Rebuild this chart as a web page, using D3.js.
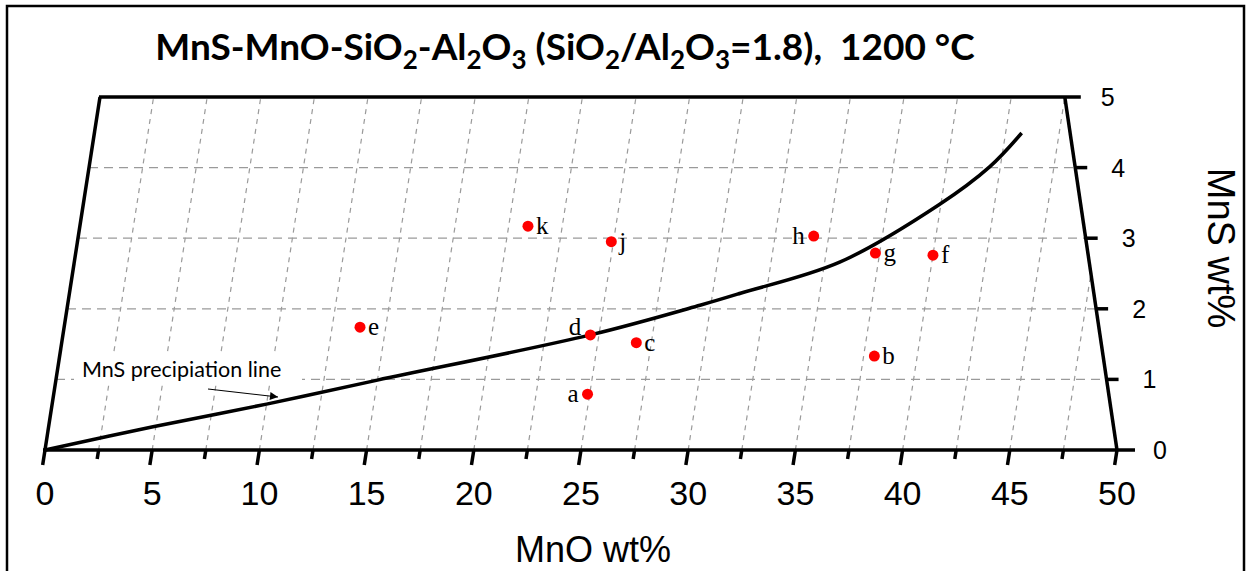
<!DOCTYPE html>
<html>
<head>
<meta charset="utf-8">
<script src="https://cdn.jsdelivr.net/npm/d3@7"></script>
<style>
  body { margin: 0; background: #fff; }
  svg text { white-space: pre; }
</style>
</head>
<body>
<div id="container"></div>
<script>
// MnO (x) / MnS (y) axes
var mnoTicks = [0, 5, 10, 15, 20, 25, 30, 35, 40, 45, 50];
var mnsTicks = [0, 1, 2, 3, 4, 5];

// MnS precipitation line
var lineMnO = [0, 4.87, 10, 15, 24.6, 29.5, 31.3, 35.7, 39.9, 42.0, 43.25];
var lineMnS = [0, 0.33, 0.65, 0.99, 1.63, 2.05, 2.22, 2.66, 3.47, 4.01, 4.49];

// sample points
var sampleIds  = ["a", "b", "c", "d", "e", "f", "g", "h", "j", "k"];
var sampleMnO  = [24.9, 38.0, 26.8, 24.6, 13.8, 40.0, 37.3, 34.3, 24.9, 20.9];
var sampleMnS  = [0.79, 1.33, 1.52, 1.63, 1.74, 2.76, 2.79, 3.03, 2.95, 3.17];
var labelLeft  = ["a", "d", "h"];

var svg = d3.select("#container").append("svg")
            .attr("width", 1250).attr("height", 571);

var x = d3.scaleLinear().domain([0, 50]).range([45, 1117]);
var y = d3.scaleLinear().domain([0, 5]).range([450, 97]);
var shear = 55 / 353;

// skewed plot coordinates
function P(a, b) {
    return [x(a) + shear * (y(0) - y(b)), y(b)];
}

// outer frame
svg.append("rect").attr("x", 7).attr("y", 6).attr("width", 1237).attr("height", 580)
   .attr("fill", "none").attr("stroke", "#000").attr("stroke-width", 2.5);

// title
var title = svg.append("text").attr("x", 565).attr("y", 60)
               .attr("text-anchor", "middle")
               .style("font-family", "Lato, 'Open Sans', sans-serif")
               .style("font-weight", "bold").style("font-size", "37px");
var parts = [["MnS-MnO-SiO", 0], ["2", 1], ["-Al", 0], ["2", 1], ["O", 0], ["3", 1],
             [" (SiO", 0], ["2", 1], ["/Al", 0], ["2", 1], ["O", 0], ["3", 1],
             ["=1.8),  1200 \u00B0C", 0]];
parts.forEach(function(p, i) {
    var t = title.append("tspan").text(p[0]);
    if (p[1]) t.attr("dy", 9).style("font-size", "26px");
    else t.attr("dy", (i > 0 && parts[i - 1][1]) ? -9 : 0);
});

// grid
var grid = svg.append("g").attr("stroke", "#9a9a9a").attr("stroke-width", 1.2).attr("fill", "none");
var vGrid = d3.range(2.5, 50, 2.5);
grid.selectAll("line.v").data(vGrid).enter().append("line")
    .attr("stroke-dasharray", "5,5")
    .attr("x1", function(d){ return P(d, 0)[0]; })
    .attr("y1", function(d){ return P(d, 0)[1]; })
    .attr("x2", function(d){ return P(d, Math.min(5, 50 - d))[0]; })
    .attr("y2", function(d){ return P(d, Math.min(5, 50 - d))[1]; });
grid.selectAll("line.h").data([1, 2, 3, 4]).enter().append("line")
    .attr("stroke-dasharray", "9,6")
    .attr("x1", function(d){ return P(0, d)[0]; })
    .attr("y1", function(d){ return P(0, d)[1]; })
    .attr("x2", function(d){ return P(50 - d, d)[0]; })
    .attr("y2", function(d){ return P(50 - d, d)[1]; });

// frame of the diagram
var frame = svg.append("g").attr("stroke", "#000").attr("stroke-width", 3.5)
               .attr("fill", "none").attr("stroke-linecap", "butt");
frame.append("line").attr("x1", P(0, 0)[0] - 2).attr("y1", y(0))
     .attr("x2", P(50, 0)[0] + 18).attr("y2", y(0));
frame.append("line").attr("x1", P(0, 0)[0]).attr("y1", y(0))
     .attr("x2", P(0, 5)[0]).attr("y2", y(5));
frame.append("line").attr("x1", P(0, 5)[0] - 1).attr("y1", y(5))
     .attr("x2", P(45, 5)[0] + 16).attr("y2", y(5));
frame.append("line").attr("x1", P(45, 5)[0]).attr("y1", y(5))
     .attr("x2", P(50, 0)[0]).attr("y2", y(0));

// bottom ticks (slanted like the grid)
var bTicks = d3.range(0, 50.1, 2.5);
frame.selectAll("line.bt").data(bTicks).enter().append("line")
     .attr("x1", function(d){ return x(d); })
     .attr("y1", y(0))
     .attr("x2", function(d){ return x(d) - shear * (d % 5 === 0 ? 15 : 9); })
     .attr("y2", function(d){ return y(0) + (d % 5 === 0 ? 15 : 9); });

// right ticks
frame.selectAll("line.rt").data([1, 2, 3, 4]).enter().append("line")
     .attr("x1", function(d){ return P(50 - d, d)[0]; })
     .attr("y1", function(d){ return y(d); })
     .attr("x2", function(d){ return P(50 - d, d)[0] + 12; })
     .attr("y2", function(d){ return y(d); });

// tick labels
svg.append("g").selectAll("text").data(mnoTicks).enter().append("text")
   .attr("x", function(d){ return x(d); })
   .attr("y", 505)
   .attr("text-anchor", "middle")
   .style("font-family", "'Liberation Sans', Arial, sans-serif")
   .style("font-size", "34px")
   .text(function(d){ return d; });

svg.append("g").selectAll("text").data(mnsTicks).enter().append("text")
   .attr("x", function(d){ return P(50 - d, d)[0] + 43; })
   .attr("y", function(d){ return y(d); })
   .attr("text-anchor", "middle")
   .attr("dominant-baseline", "central")
   .style("font-family", "'Liberation Sans', Arial, sans-serif")
   .style("font-size", "25px")
   .text(function(d){ return d; });

// axis titles
svg.append("text").attr("x", 593).attr("y", 562).attr("text-anchor", "middle")
   .style("font-family", "'Liberation Sans', Arial, sans-serif")
   .style("font-size", "36px").text("MnO wt%");
svg.append("text").attr("transform", "translate(1208,248) rotate(90)")
   .attr("text-anchor", "middle")
   .style("font-family", "'Liberation Sans', Arial, sans-serif")
   .style("font-size", "38px").text("MnS wt%");

// precipitation line
var linePts = lineMnO.map(function(d, i){ return P(d, lineMnS[i]); });
svg.append("path").datum(linePts)
   .attr("d", d3.line().curve(d3.curveCatmullRom.alpha(0.5)))
   .attr("fill", "none").attr("stroke", "#000").attr("stroke-width", 3.5);

// annotation
svg.append("rect").attr("x", 74).attr("y", 354).attr("width", 228).attr("height", 30)
   .attr("fill", "#fff");
svg.append("text").attr("x", 82).attr("y", 377)
   .style("font-family", "Lato, 'Open Sans', sans-serif")
   .style("font-size", "21.5px").text("MnS precipiation line");
svg.append("defs").append("marker").attr("id", "arr")
   .attr("viewBox", "0 0 10 10").attr("refX", 10).attr("refY", 5)
   .attr("markerWidth", 10).attr("markerHeight", 8).attr("orient", "auto")
   .attr("markerUnits", "userSpaceOnUse")
   .append("path").attr("d", "M0,0 L10,5 L0,10 z").attr("fill", "#000");
svg.append("line").attr("x1", 208).attr("y1", 389).attr("x2", 278).attr("y2", 397)
   .attr("stroke", "#000").attr("stroke-width", 1.2).attr("marker-end", "url(#arr)");

// samples
var samples = sampleIds.map(function(id, i){
    return {id: id, p: P(sampleMnO[i], sampleMnS[i])};
});
svg.append("g").selectAll("circle").data(samples).enter().append("circle")
   .attr("cx", function(d){ return d.p[0]; })
   .attr("cy", function(d){ return d.p[1]; })
   .attr("r", 5.5).attr("fill", "#ff0000");
svg.append("g").selectAll("text").data(samples).enter().append("text")
   .attr("x", function(d){ return labelLeft.indexOf(d.id) >= 0 ? d.p[0] - 9 : d.p[0] + 8; })
   .attr("y", function(d){ return d.p[1] + (d.id === "d" ? 0 : 8); })
   .attr("text-anchor", function(d){ return labelLeft.indexOf(d.id) >= 0 ? "end" : "start"; })
   .style("font-family", "'Liberation Serif', 'Times New Roman', serif")
   .style("font-size", "25px")
   .text(function(d){ return d.id; });
</script>
</body>
</html>
